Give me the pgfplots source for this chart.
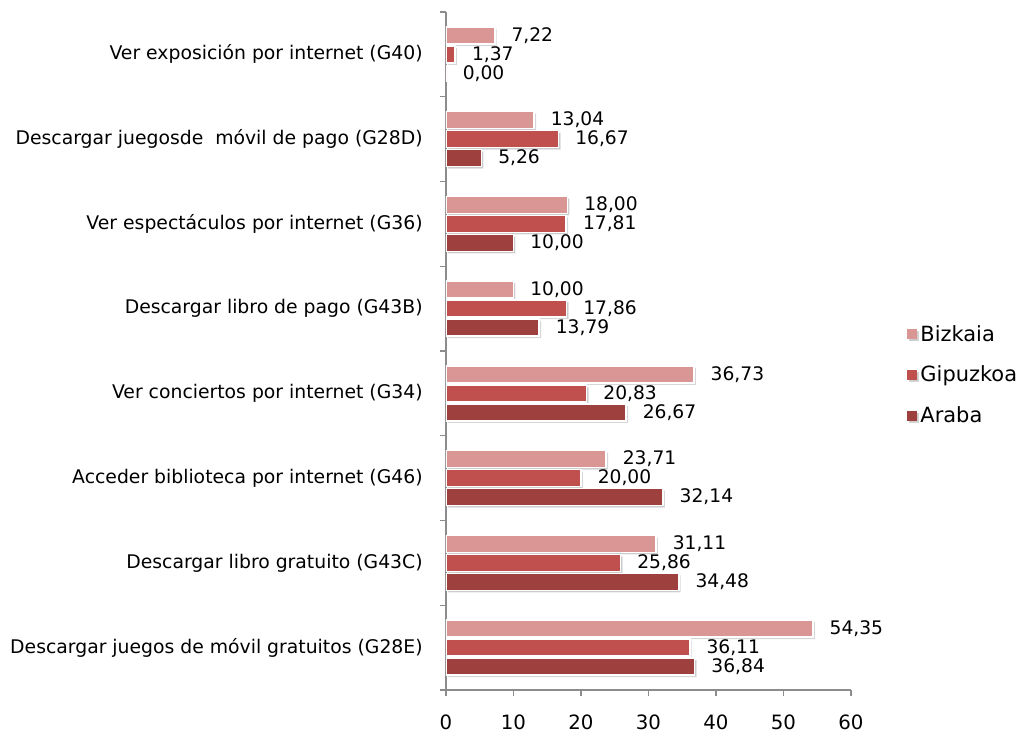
\documentclass[border=0pt]{standalone}
\usepackage{fontspec}
\setmainfont{DejaVu Sans}
\usepackage{pgfplots}
\pgfplotsset{compat=1.18}
\usetikzlibrary{shadows}

\definecolor{bizkaia}{HTML}{D99694}
\definecolor{gipuzkoa}{HTML}{C0504D}
\definecolor{araba}{HTML}{9E413E}
\definecolor{axisgray}{HTML}{8C8C8C}

\begin{document}
\begin{tikzpicture}
\begin{axis}[
  scale only axis,
  width=303.75pt, height=508.5pt,
  xbar, bar width=12.75pt,
  xmin=0, xmax=60, ymin=-0.5, ymax=7.5,
  axis x line*=bottom, axis y line*=left,
  axis line style={axisgray, line width=0.9pt, -},
  xtick={0,10,...,60},
  ytick={-0.5,0.5,...,7.5},
  yticklabels={},
  extra y ticks={0,...,7},
  extra y tick labels={
    Descargar juegos de móvil gratuitos (G28E),
    Descargar libro gratuito (G43C),
    Acceder biblioteca por internet (G46),
    Ver conciertos por internet (G34),
    Descargar libro de pago (G43B),
    Ver espectáculos por internet (G36),
    Descargar juegosde\ \ móvil de pago (G28D),
    Ver exposición por internet (G40)},
  extra y tick style={tick style={draw=none},
    yticklabel style={xshift=-9.5pt}},
  tick align=outside,
  major tick length=4.5pt,
  tick style={axisgray, line width=0.9pt},
  tick label style={font=\fontsize{14.1}{17}\selectfont, text=black},
  xticklabel style={font=\fontsize{14.8}{18}\selectfont, yshift=-10.5pt},
  /pgf/number format/assume math mode=true,
  nodes near coords={\pgfmathprintnumber[fixed,zerofill,precision=2,use comma]{\pgfplotspointmeta}},
  nodes near coords style={font=\fontsize{14}{17}\selectfont, text=black, anchor=west, inner sep=0pt, xshift=12pt},
  every axis plot/.append style={draw=white, line width=1.2pt,
    drop shadow={shadow xshift=1.5pt, shadow yshift=-1.5pt, opacity=0.2, fill=black}},
  legend style={draw=none, fill=none, at={(rel axis cs:1.138,0.4646)}, anchor=west,
    inner sep=0pt, font=\fontsize{15.7}{18}\selectfont, row sep=12pt,
    nodes={inner sep=2.5pt}},
  legend cell align=left,
  legend image code/.code={\fill[#1, draw=none] (0pt,-3.75pt) rectangle (7.5pt,3.75pt);},
]
\addplot[fill=bizkaia, bar shift=14.25pt] coordinates {
  (54.35,0) (31.11,1) (23.71,2) (36.73,3) (10.00,4) (18.00,5) (13.04,6) (7.22,7)};
\addplot[fill=gipuzkoa, bar shift=0pt] coordinates {
  (36.11,0) (25.86,1) (20.00,2) (20.83,3) (17.86,4) (17.81,5) (16.67,6) (1.37,7)};
\addplot[fill=araba, bar shift=-14.25pt] coordinates {
  (36.84,0) (34.48,1) (32.14,2) (26.67,3) (13.79,4) (10.00,5) (5.26,6) (0.00,7)};
\legend{Bizkaia, Gipuzkoa, Araba}
\end{axis}
\path (current axis.south west) ++(-334.5pt,-37.5pt) rectangle ++(768pt,555pt);
\end{tikzpicture}
\end{document}
